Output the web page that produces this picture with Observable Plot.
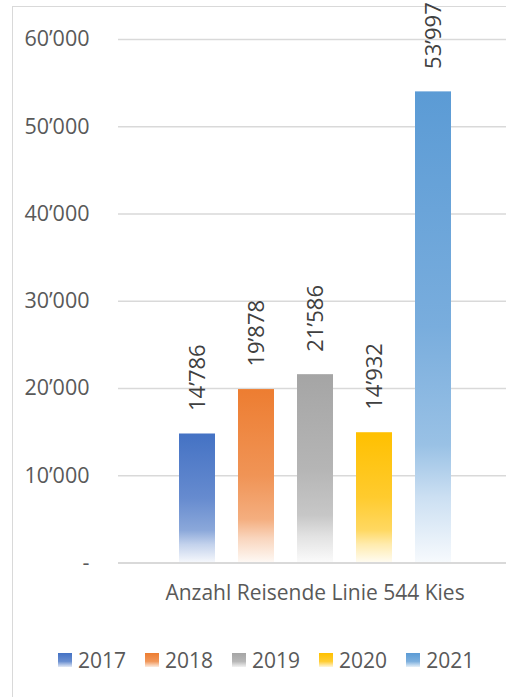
<!DOCTYPE html>
<html><head><meta charset="utf-8">
<script src="https://cdn.jsdelivr.net/npm/d3@7"></script>
<script src="https://cdn.jsdelivr.net/npm/@observablehq/plot@0.6"></script>
<style>
body{margin:0;background:#fff;}
#wrap{position:relative;width:506px;height:697px;overflow:hidden;font-family:"Open Sans",sans-serif;color:#595959;background:#fff;}
#frame{position:absolute;left:12px;top:6px;width:600px;height:800px;border:1.5px solid #d9d9d9;box-sizing:border-box;}
#chart{position:absolute;left:0;top:0;}
#legend{position:absolute;top:645px;left:58px;display:flex;gap:19px;align-items:center;font-size:21px;line-height:30px;}
.item{display:flex;align-items:center;gap:6px;}
.sw{width:14px;height:14px;display:inline-block;}
</style></head>
<body>
<div id="wrap"><div id="frame"></div><div id="chart"></div><div id="legend"></div></div>
<script>
const categories = ["Anzahl Reisende Linie 544 Kies"];
const years = ["2017","2018","2019","2020","2021"];
const values = [14786, 19878, 21586, 14932, 53997];
const colors = ["#4472C4","#ED7D31","#A5A5A5","#FFC000","#5B9BD5"];
const yTicks = [0,10000,20000,30000,40000,50000,60000];

const fmt = v => d3.format(",")(v).replace(/,/g, "\u2019");
const tickFmt = v => v === 0 ? "-" : fmt(v);
const gradStops = [[0,0],[0.5,0.18],[0.75,0.38],[0.86,0.68],[1,0.95]];

const data = years.map((y,i) => ({year:y, value:values[i], category:categories[0], fill:`url(#grad-${y})`}));

const plot = Plot.plot({
  width:506, height:620,
  marginLeft:118, marginRight:0, marginTop:39, marginBottom:57.5,
  style:{fontFamily:"Open Sans", fontSize:"21px", color:"#595959", background:"transparent", overflow:"visible"},
  x:{domain:years, range:[167,462], paddingInner:0.39, paddingOuter:0.195, axis:null},
  y:{domain:[0,60000]},
  color:{type:"identity"},
  marks:[
    Plot.gridY({ticks:yTicks.filter(t=>t>0), stroke:"#d9d9d9", strokeOpacity:1, strokeWidth:1.5}),
    Plot.barY(data, {x:"year", y:"value", fill:"fill"}),
    Plot.ruleY([0], {stroke:"#d9d9d9", strokeWidth:2}),
    Plot.axisY({ticks:yTicks, tickFormat:tickFmt, tickSize:0, tickPadding:29, label:null, fill:"#595959", fontSize:21.5}),
    Plot.text(data, {x:"year", y:"value", text:d=>fmt(d.value), rotate:-90, textAnchor:"start", lineAnchor:"middle", dy:-23, fill:"#404040", fontSize:22}),
    Plot.text(categories, {frameAnchor:"bottom", dy:37, dx:2.5, fill:"#595959", fontSize:21})
  ]
});

const ns = "http://www.w3.org/2000/svg";
const defs = document.createElementNS(ns, "defs");
years.forEach((y,i) => {
  const g = document.createElementNS(ns, "linearGradient");
  g.setAttribute("id", `grad-${y}`);
  g.setAttribute("x1","0"); g.setAttribute("y1","0"); g.setAttribute("x2","0"); g.setAttribute("y2","1");
  gradStops.forEach(([o,t]) => {
    const s = document.createElementNS(ns, "stop");
    s.setAttribute("offset", o);
    s.setAttribute("stop-color", d3.interpolateRgb(colors[i], "#fff")(t));
    g.appendChild(s);
  });
  defs.appendChild(g);
});
plot.insertBefore(defs, plot.firstChild);
document.getElementById("chart").appendChild(plot);

const leg = document.getElementById("legend");
years.forEach((y,i) => {
  const it = document.createElement("div"); it.className = "item";
  const sw = document.createElement("span"); sw.className = "sw";
  const c = colors[i];
  sw.style.background = `linear-gradient(to bottom, ${c} 0%, ${d3.interpolateRgb(c,"#fff")(0.2)} 60%, ${d3.interpolateRgb(c,"#fff")(0.85)} 100%)`;
  const tx = document.createElement("span"); tx.textContent = y;
  it.appendChild(sw); it.appendChild(tx); leg.appendChild(it);
});
</script>
</body></html>
